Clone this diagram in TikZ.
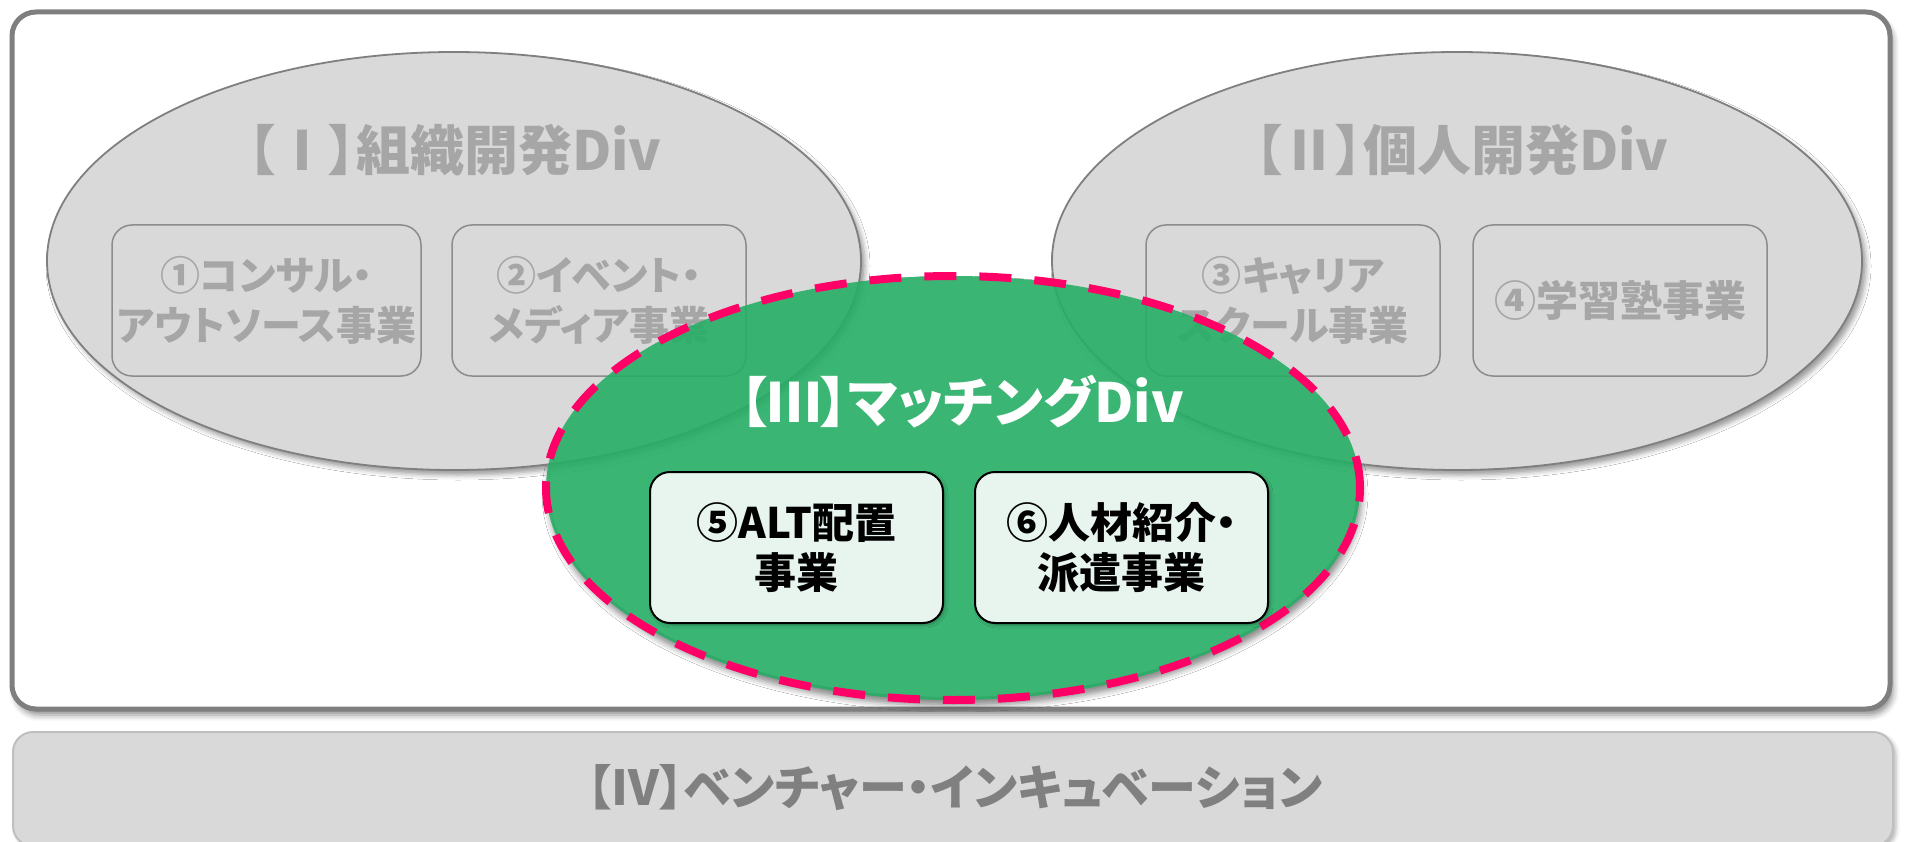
\documentclass[tikz,border=0pt]{standalone}
\usepackage{fontspec}
\setmainfont{Noto Sans CJK JP}[RawFeature=+palt]
\usetikzlibrary{shapes.geometric,shadows.blur}
\definecolor{txtgray}{RGB}{166,166,166}
\definecolor{elgray}{RGB}{217,217,217}
\definecolor{lngray}{RGB}{127,127,127}
\definecolor{boxln}{RGB}{140,140,140}
\definecolor{grn}{RGB}{38,174,101}
\definecolor{pnk}{RGB}{255,0,102}
\definecolor{mint}{RGB}{232,245,238}
\definecolor{bgray}{RGB}{191,191,191}
\definecolor{dgray}{RGB}{128,128,128}
\tikzset{
  outerbox/.style={draw=lngray, line width=5pt, fill=white, rounded corners=24pt, inner sep=0pt,
    blur shadow={shadow xshift=3pt, shadow yshift=-6pt, shadow blur radius=6pt, shadow opacity=45}},
  basebox/.style={draw=bgray, line width=2pt, fill=elgray, rounded corners=20pt, inner sep=0pt,
    blur shadow={shadow xshift=3pt, shadow yshift=-3pt, shadow blur radius=4pt, shadow opacity=30}},
  divell/.style={ellipse, draw=lngray, line width=1.8pt, fill=elgray, inner sep=0pt,
    blur shadow={shadow xshift=4pt, shadow yshift=-5pt, shadow blur radius=5pt, shadow opacity=40}},
  shadowell/.style={ellipse, inner sep=0pt,
    blur shadow={shadow xshift=2pt, shadow yshift=-6pt, shadow blur radius=6pt, shadow opacity=45}},
  grayunit/.style={draw=boxln, line width=1.5pt, rounded corners=20pt, inner sep=0pt,
    minimum height=151pt, text=txtgray, align=center, font=\bfseries\fontsize{40}{50}\selectfont},
  matchell/.style={ellipse, draw=pnk, line width=8pt, dash pattern=on 32pt off 23pt,
    fill=grn, fill opacity=0.9, inner sep=0pt},
  greenunit/.style={draw=black, line width=2pt, fill=mint, rounded corners=20pt, inner sep=0pt,
    minimum width=293pt, minimum height=151pt, align=center, text=black,
    font=\bfseries\fontsize{42}{50}\selectfont,
    blur shadow={shadow xshift=2pt, shadow yshift=-2pt, shadow blur radius=3pt, shadow opacity=30}},
  divtitle/.style={font=\bfseries\fontsize{54}{60}\selectfont, inner sep=0pt},
}
\begin{document}
\begin{tikzpicture}[x=1pt,y=-1pt]
\useasboundingbox (0,0) rectangle (1908,842);
\node[outerbox, minimum width=1878pt, minimum height=697pt] (outer) at (951,360.5) {};
\node[basebox, minimum width=1880pt, minimum height=114pt] (venture) at (953,789) {};
\node[text=dgray, font=\bfseries\fontsize{48}{56}\selectfont, inner sep=0pt] (ventureT) at (955,788) {【Ⅳ】ベンチャー・インキュベーション};

\begin{scope}[even odd rule]
  \clip (0,0) rectangle (1908,842) (953,488) ellipse [x radius=404pt, y radius=209pt];
  \node[shadowell, minimum width=814pt, minimum height=424pt] (divIIIshadow) at (953,488) {};
\end{scope}
\node[divell, minimum width=814pt, minimum height=418pt] (divI) at (454,261) {};
\node[divell, minimum width=810pt, minimum height=418pt] (divII) at (1457,261) {};
\node[divtitle, text=txtgray] (titleI) at (455,150) {【Ⅰ】組織開発Div};
\node[divtitle, text=txtgray] (titleII) at (1462,150) {【Ⅱ】個人開発Div};

\node[grayunit, minimum width=309pt] (u1) at (266.5,300.5) {①コンサル・\\アウトソース事業};
\node[grayunit, minimum width=294pt] (u2) at (599,300.5) {②イベント・\\メディア事業};
\node[grayunit, minimum width=294pt] (u3) at (1293,300.5) {③キャリア\\スクール事業};
\node[grayunit, minimum width=294pt, font=\bfseries\fontsize{42}{50}\selectfont] (u4) at (1620,300.5) {④学習塾事業};

\node[matchell, minimum width=814pt, minimum height=424pt] (divIII) at (953,488) {};
\node[divtitle, text=white] (titleIII) at (962,402) {【Ⅲ】マッチングDiv};
\node[greenunit] (u5) at (796.5,547.5) {⑤ALT配置\\事業};
\node[greenunit] (u6) at (1121.5,547.5) {⑥人材紹介・\\派遣事業};
\end{tikzpicture}
\end{document}
